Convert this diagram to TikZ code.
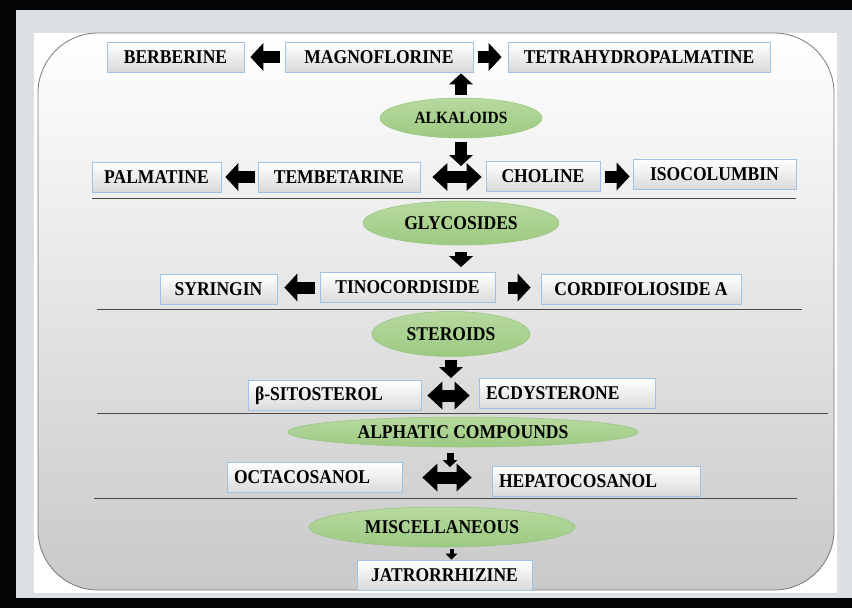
\documentclass[tikz,border=0pt]{standalone}
\usepackage{fontspec}
\setmainfont{Liberation Serif}[FakeStretch=0.9]
\usepackage{tikz}
\usetikzlibrary{arrows.meta,positioning,shapes.geometric}
\definecolor{frameblk}{HTML}{050505}
\definecolor{pagegray}{HTML}{DDE0E2}
\definecolor{panelbot}{HTML}{C9C9C9}
\definecolor{panelrim}{HTML}{7A7A7A}
\definecolor{boxrim}{HTML}{9DC3E6}
\definecolor{boxbot}{HTML}{DADADA}
\definecolor{grptop}{HTML}{B7DA9F}
\definecolor{grpbot}{HTML}{9DC982}
\definecolor{grprim}{HTML}{93C47D}
\definecolor{rulegray}{HTML}{4A4A4A}

\begin{document}
\begin{tikzpicture}[x=1pt,y=-1pt,font=\bfseries\fontsize{19.5}{22}\selectfont,
  cbox/.style={draw=boxrim,line width=0.8pt,top color=white,bottom color=boxbot,
    inner xsep=7pt,inner ysep=0pt,minimum height=30pt},
  lbox/.style={cbox,align=left,text width=#1},
  grp/.style={ellipse,draw=grprim,line width=0.5pt,top color=grptop,bottom color=grpbot,inner sep=0pt},
  bigar/.style={line width=12pt,-{Triangle[length=13pt,width=28pt,line width=0pt]}},
  vertar/.style={line width=12pt,-{Triangle[length=11pt,width=24pt,line width=0pt]}},
  smallar/.style={line width=7pt,-{Triangle[length=7pt,width=15pt,line width=0pt]}},
  tinyar/.style={line width=4pt,-{Triangle[length=6pt,width=12pt,line width=0pt]}},
  dblar/.style={line width=12pt,{Triangle[length=15pt,width=28pt,line width=0pt]}-{Triangle[length=15pt,width=28pt,line width=0pt]}},
  divline/.style={draw=rulegray,line width=0.8pt}]
\useasboundingbox (0,0) rectangle (852,608);
\fill[frameblk] (0,0) rectangle (852,608);
\fill[pagegray] (16,10) rectangle (852,598);
\fill[white] (34,33) rectangle (837,593);
\path[top color=white,middle color=white,bottom color=panelbot,draw=panelrim,line width=0.8pt,
  rounded corners=60pt] (38,33) rectangle (834,590);

\node[cbox,minimum width=137pt](ber) at (175.5,57){BERBERINE};
\node[cbox,minimum width=188pt](mag) at (379,57){MAGNOFLORINE};
\node[cbox,minimum width=262pt](thp) at (639,57){TETRAHYDROPALMATINE};
\node[grp,minimum width=162pt,minimum height=40pt,font=\bfseries\fontsize{17.2}{20}\selectfont](alk) at (461,118){ALKALOIDS};
\node[cbox,minimum width=129pt](pal) at (156.5,177){PALMATINE};
\node[cbox,minimum width=162pt](tem) at (339,177){TEMBETARINE};
\node[cbox,minimum width=114pt](cho) at (543,176.5){CHOLINE};
\node[cbox,minimum width=163pt](iso) at (714.5,174.5){ISOCOLUMBIN};
\node[grp,minimum width=196pt,minimum height=44pt](gly) at (461,223){GLYCOSIDES};
\node[cbox,minimum width=117pt](syr) at (218.5,289){SYRINGIN};
\node[cbox,minimum width=175pt](tin) at (407.5,287.5){TINOCORDISIDE};
\node[cbox,minimum width=200pt](cfa) at (641,289.5){CORDIFOLIOSIDE A};
\node[grp,minimum width=158pt,minimum height=45pt](ste) at (451,334){STEROIDS};
\node[lbox=159pt](bsi) at (334.5,395.5){β-SITOSTEROL};
\node[lbox=162pt](ecd) at (567,393.5){ECDYSTERONE};
\node[grp,minimum width=350pt,minimum height=30pt](alp) at (463,432){ALPHATIC COMPOUNDS};
\node[lbox=161pt](oct) at (314.5,477.5){OCTACOSANOL};
\node[lbox=194pt](hep) at (596,481){HEPATOCOSANOL};
\node[grp,minimum width=266pt,minimum height=40pt](mis) at (442,527){MISCELLANEOUS};
\node[cbox,minimum width=175pt](jat) at (444.5,575){JATRORRHIZINE};

\draw[divline](92,198)--(796,198);
\draw[divline](97,309)--(802,309);
\draw[divline](97,413)--(828,413);
\draw[divline](94,498)--(797,498);

\coordinate (j1) at (457,179);
\coordinate (j2) at (449,393);
\coordinate (j3) at (450,479);
\coordinate (j4) at ([xshift=7pt]jat.north);
\draw[bigar,shorten <=5pt,shorten >=6pt](mag.west)--(ber.east);
\draw[bigar,shorten <=5pt,shorten >=6pt](mag.east)--(thp.west);
\draw[vertar,shorten <=3pt,shorten >=1pt](alk.north)--(alk.north |- mag.south);
\draw[vertar,shorten <=4pt,shorten >=13pt](alk.south)--(alk.south |- j1);
\draw[dblar,shorten <=12pt,shorten >=4pt](tem.east)--(tem.east -| cho.west);
\draw[bigar,shorten <=3pt,shorten >=4pt](tem.west)--(tem.west -| pal.east);
\draw[bigar,shorten <=5pt,shorten >=3pt](cho.east)--(cho.east -| iso.west);
\draw[vertar,shorten <=7pt,shorten >=5pt](gly.south)--(gly.south |- tin.north);
\draw[bigar,shorten <=5pt,shorten >=7pt](tin.west)--(tin.west -| syr.east);
\draw[bigar,shorten <=13pt,shorten >=10pt](tin.east)--(tin.east -| cfa.west);
\draw[vertar,shorten <=3pt,shorten >=15pt](ste.south)--(ste.south |- j2);
\draw[dblar,shorten <=6pt,shorten >=9pt](bsi.east)--(bsi.east -| ecd.west);
\draw[smallar,shorten <=6pt,shorten >=12pt](j3 |- alp.south)--(j3);
\draw[dblar,shorten <=20pt,shorten >=20pt](oct.east)--(oct.east -| hep.west);
\draw[tinyar,shorten <=2pt](j4 |- mis.south)--(j4);
\end{tikzpicture}
\end{document}
